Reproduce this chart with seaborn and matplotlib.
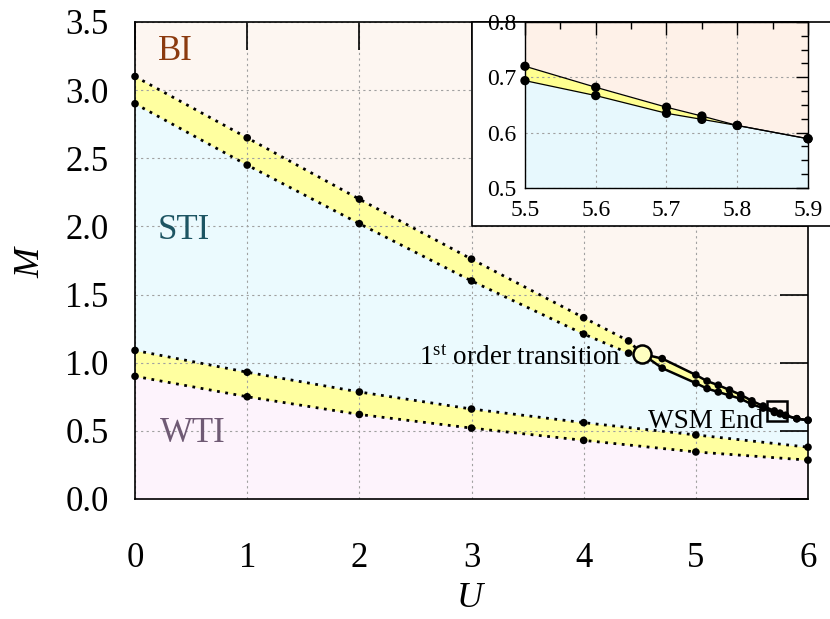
import numpy as np
import seaborn as sns
import matplotlib.pyplot as plt
from matplotlib.patches import Rectangle
from matplotlib.ticker import MultipleLocator, FormatStrFormatter

# upper phase boundary band (BI / STI)
u_dot = [0, 1, 2, 3, 4, 4.4]
hi_dot = [3.10, 2.65, 2.20, 1.76, 1.33, 1.16]
lo_dot = [2.90, 2.45, 2.02, 1.60, 1.21, 1.07]

# first order transition point
u_c, m_c = 4.52, 1.065

u_sol = [4.7, 5.0, 5.1, 5.2, 5.3, 5.4, 5.5, 5.6, 5.7, 5.75, 5.8, 5.9, 6.0]
hi_sol = [1.03, 0.91, 0.865, 0.835, 0.80, 0.765, 0.72, 0.682, 0.646, 0.630, 0.613, 0.589, 0.578]
lo_sol = [0.96, 0.85, 0.81, 0.785, 0.76, 0.735, 0.694, 0.667, 0.635, 0.624, 0.613, 0.589, 0.578]

# WSM end marker
u_w, m_w = 5.72, 0.645

# lower band (STI / WTI)
u_low = [0, 1, 2, 3, 4, 5, 6]
hi_low = [1.09, 0.93, 0.785, 0.66, 0.56, 0.47, 0.38]
lo_low = [0.90, 0.75, 0.62, 0.52, 0.43, 0.345, 0.285]

# inset data
u_in = [5.5, 5.6, 5.7, 5.75, 5.8, 5.9]
hi_in = [0.720, 0.682, 0.646, 0.630, 0.613, 0.589]
lo_in = [0.694, 0.667, 0.635, 0.624, 0.613, 0.589]

c_bi = "#fdf6f1"
c_sti = "#ebfafe"
c_wti = "#fdf3fc"
c_band = "#ffffa0"

sns.set_theme(style="white")
plt.rcParams['font.family'] = ['Liberation Serif', 'DejaVu Serif']
plt.rcParams['mathtext.fontset'] = 'custom'
plt.rcParams['mathtext.rm'] = 'Liberation Serif'
plt.rcParams['mathtext.it'] = 'Liberation Serif:italic'
plt.rcParams['text.color'] = 'black'
plt.rcParams['axes.labelcolor'] = 'black'
plt.rcParams['xtick.color'] = 'black'
plt.rcParams['ytick.color'] = 'black'

fig = plt.figure(figsize=(8.3, 6.19), dpi=100)
ax = fig.add_axes([0.1627, 0.1939, 0.8108, 0.7706])

u_all = np.array(u_dot + [u_c] + u_sol)
hi_all = np.array(hi_dot + [m_c + 0.01] + hi_sol)
lo_all = np.array(lo_dot + [m_c - 0.01] + lo_sol)
u_l = np.array(u_low)

# phase regions
ax.fill_between(u_all, hi_all, 3.6, color=c_bi, lw=0, zorder=0)
ax.fill_between(u_all, lo_all, np.interp(u_all, u_l, hi_low), color=c_sti, lw=0, zorder=0)
ax.fill_between(u_l, -0.1, lo_low, color=c_wti, lw=0, zorder=0)
ax.fill_between(u_all, lo_all, hi_all, color=c_band, lw=0, zorder=0.5)
ax.fill_between(u_l, lo_low, hi_low, color=c_band, lw=0, zorder=0.5)

ax.grid(True, color="#a0a0a0", ls=(0, (2, 3)), lw=0.8)
ax.set_axisbelow(True)

# dotted boundaries
for ys in (hi_dot, lo_dot):
    sns.lineplot(x=u_dot + [u_c], y=ys + [m_c], ax=ax, color="black",
                 lw=2, ls=(0, (1, 2)), sort=False, zorder=3)
for ys in (hi_low, lo_low):
    sns.lineplot(x=u_low, y=ys, ax=ax, color="black", lw=2, ls=(0, (1, 2)),
                 sort=False, zorder=3)
# solid boundaries after transition
for ys in (hi_sol, lo_sol):
    sns.lineplot(x=[u_c] + u_sol, y=[m_c] + ys, ax=ax, color="black", lw=1.8,
                 sort=False, zorder=3)

dots_u = u_dot * 2 + u_sol * 2 + u_low * 2
dots_m = hi_dot + lo_dot + hi_sol + lo_sol + hi_low + lo_low
sns.scatterplot(x=dots_u, y=dots_m, ax=ax, color="black", s=30,
                edgecolor="none", zorder=4, clip_on=False)

ax.plot([u_c], [m_c], marker="o", ms=13, mfc="#ffffc0", mec="black",
        mew=1.8, zorder=5)
ax.plot([u_w], [m_w], marker="s", ms=15, mfc="none", mec="black",
        mew=1.8, zorder=5)

ax.text(4.33, 1.03, r"1$^{\rm st}$ order transition", fontsize=19.5,
        ha="right", va="center", zorder=6)
ax.text(5.6, 0.565, "WSM End", fontsize=19.5, ha="right", va="center", zorder=6)

ax.text(0.2, 3.28, "BI", fontsize=25, color="#8b3a0f", va="center")
ax.text(0.2, 1.97, "STI", fontsize=25, color="#1d5563", va="center")
ax.text(0.22, 0.48, "WTI", fontsize=25, color="#6f5a74", va="center")

ax.set_xlim(0, 6)
ax.set_ylim(0, 3.5)
ax.xaxis.set_major_locator(MultipleLocator(1))
ax.yaxis.set_major_locator(MultipleLocator(0.5))
ax.yaxis.set_major_formatter(FormatStrFormatter("%.1f"))
ax.tick_params(direction="in", length=20, width=1.2, color="black",
               top=True, right=True, labelsize=25)
ax.tick_params(axis="x", pad=31)
ax.tick_params(axis="y", pad=19)
ax.set_xlabel("$U$", fontsize=26, labelpad=5)
ax.set_ylabel("$M$", fontsize=26, labelpad=13)
for sp in ax.spines.values():
    sp.set_color("black")
    sp.set_linewidth(1.2)

# white box behind the inset
ax.add_patch(Rectangle((0.5687, 0.6349), 0.5, 0.3296, transform=fig.transFigure,
                       facecolor="white", edgecolor="black", lw=1.2,
                       clip_on=False, zorder=10))

axin = fig.add_axes([0.6325, 0.6963, 0.341, 0.2682])
uin = np.array(u_in)
axin.fill_between(uin, hi_in, 0.85, color="#fef1e8", lw=0, zorder=0)
axin.fill_between(uin, 0.45, lo_in, color="#e7f8fd", lw=0, zorder=0)
axin.fill_between(uin, lo_in, hi_in, color="#ffff90", lw=0, zorder=0.5)
axin.grid(True, color="#a0a0a0", ls=(0, (2, 3)), lw=0.8)
axin.set_axisbelow(True)
for ys in (hi_in, lo_in):
    sns.lineplot(x=u_in, y=ys, ax=axin, color="black", lw=0.9, sort=False, zorder=3)
sns.scatterplot(x=u_in * 2, y=hi_in + lo_in, ax=axin, color="black", s=45,
                edgecolor="none", zorder=4, clip_on=False)
axin.set_xlim(5.5, 5.9)
axin.set_ylim(0.5, 0.8)
axin.xaxis.set_major_locator(MultipleLocator(0.1))
axin.xaxis.set_minor_locator(MultipleLocator(0.05))
axin.yaxis.set_major_locator(MultipleLocator(0.1))
axin.yaxis.set_minor_locator(MultipleLocator(0.025))
axin.yaxis.set_major_formatter(FormatStrFormatter("%.1f"))
axin.tick_params(which="both", direction="in", top=True, right=True,
                 color="black", labelsize=17, width=1)
axin.tick_params(which="major", length=9)
axin.tick_params(which="minor", length=5)
axin.tick_params(axis="x", pad=9)
axin.tick_params(axis="y", pad=6)
axin.set_xlabel("")
axin.set_ylabel("")
for sp in axin.spines.values():
    sp.set_color("black")
    sp.set_linewidth(1)

fig.savefig("out.png", dpi=100)
